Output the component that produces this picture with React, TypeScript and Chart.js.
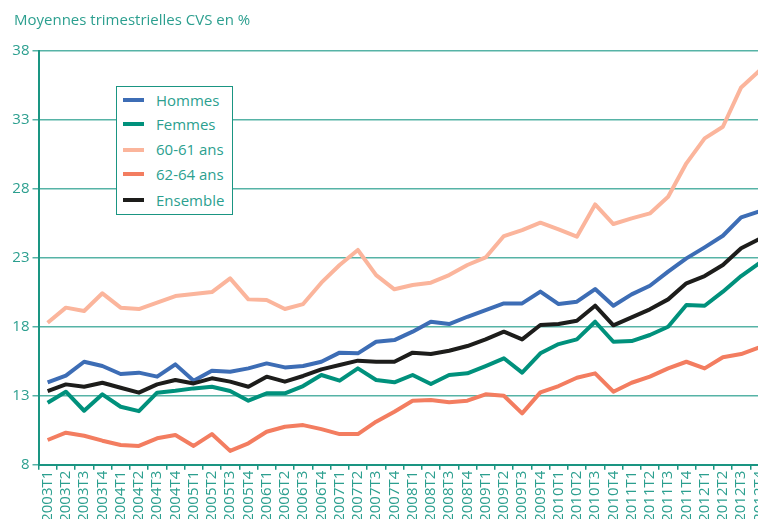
import { useEffect, useRef } from "react";
import { Chart, registerables } from "chart.js";

Chart.register(...registerables);

const categories = [
  "2003T1", "2003T2", "2003T3", "2003T4",
  "2004T1", "2004T2", "2004T3", "2004T4",
  "2005T1", "2005T2", "2005T3", "2005T4",
  "2006T1", "2006T2", "2006T3", "2006T4",
  "2007T1", "2007T2", "2007T3", "2007T4",
  "2008T1", "2008T2", "2008T3", "2008T4",
  "2009T1", "2009T2", "2009T3", "2009T4",
  "2010T1", "2010T2", "2010T3", "2010T4",
  "2011T1", "2011T2", "2011T3", "2011T4",
  "2012T1", "2012T2", "2012T3", "2012T4",
];

const hommes = [
  13.97, 14.45, 15.46, 15.15, 14.57, 14.67, 14.38, 15.27, 14.09, 14.81,
  14.74, 14.98, 15.34, 15.05, 15.15, 15.46, 16.12, 16.07, 16.91, 17.03,
  17.64, 18.36, 18.19, 18.72, 19.21, 19.69, 19.69, 20.54, 19.64, 19.81,
  20.73, 19.52, 20.34, 20.97, 21.99, 22.95, 23.75, 24.59, 25.92, 26.35,
];

const femmes = [
  12.49, 13.29, 11.91, 13.1, 12.2, 11.88, 13.22, 13.36, 13.53, 13.65,
  13.34, 12.64, 13.17, 13.17, 13.7, 14.5, 14.09, 14.98, 14.14, 13.97,
  14.5, 13.85, 14.5, 14.62, 15.15, 15.71, 14.67, 16.07, 16.74, 17.08,
  18.36, 16.91, 16.96, 17.4, 18.0, 19.57, 19.52, 20.54, 21.67, 22.6,
];

const ans6061 = [
  18.29, 19.38, 19.14, 20.42, 19.38, 19.28, 19.74, 20.22, 20.37, 20.51,
  21.5, 19.98, 19.93, 19.28, 19.64, 21.19, 22.47, 23.56, 21.74, 20.71,
  21.02, 21.19, 21.74, 22.47, 23.02, 24.57, 25.0, 25.54, 25.05, 24.52,
  26.86, 25.44, 25.85, 26.21, 27.42, 29.84, 31.65, 32.49, 35.34, 36.55,
];

const ans6264 = [
  9.79, 10.32, 10.1, 9.74, 9.43, 9.36, 9.91, 10.15, 9.36, 10.22,
  9.0, 9.55, 10.39, 10.75, 10.87, 10.58, 10.22, 10.22, 11.12, 11.84,
  12.64, 12.69, 12.52, 12.64, 13.1, 13.0, 11.72, 13.24, 13.7, 14.3,
  14.62, 13.29, 13.94, 14.38, 14.98, 15.46, 14.98, 15.78, 16.02, 16.5,
];

const ensemble = [
  13.34, 13.82, 13.65, 13.94, 13.58, 13.22, 13.82, 14.14, 13.89, 14.26,
  14.02, 13.65, 14.38, 14.02, 14.43, 14.91, 15.22, 15.54, 15.46, 15.46,
  16.12, 16.02, 16.26, 16.6, 17.08, 17.64, 17.08, 18.12, 18.19, 18.43,
  19.52, 18.1, 18.68, 19.26, 19.98, 21.14, 21.67, 22.47, 23.68, 24.35,
];

const yMin = 8;
const yMax = 38;
const yStep = 5;

const titleText = "Moyennes trimestrielles CVS en %";

const TEXT = "#2c9f8f";
const AXIS = "#1a9582";
const GRID = "#56b3a6";

const series = [
  { label: "Hommes", data: hommes, color: "#3d6db5", order: 4 },
  { label: "Femmes", data: femmes, color: "#00917c", order: 3 },
  { label: "60-61 ans", data: ans6061, color: "#fbb59c", order: 2 },
  { label: "62-64 ans", data: ans6264, color: "#f37d60", order: 1 },
  { label: "Ensemble", data: ensemble, color: "#1d1d1b", order: 0 },
];

const legendRowY = [100, 124, 149.5, 174, 200];

export default function App() {
  const ref = useRef<HTMLCanvasElement>(null);

  useEffect(() => {
    if (!ref.current) return;
    Chart.defaults.font.family = "'Open Sans', sans-serif";
    const chart = new Chart(ref.current, {
      type: "line",
      data: {
        labels: categories,
        datasets: series.map((s) => ({
          label: s.label,
          data: s.data,
          borderColor: s.color,
          backgroundColor: s.color,
          borderWidth: 4,
          pointRadius: 0,
          tension: 0,
          fill: false,
          order: s.order,
          borderJoinStyle: "round" as const,
        })),
      },
      options: {
        animation: false,
        responsive: true,
        maintainAspectRatio: false,
        layout: { padding: { top: 50.7, left: 0, right: 1.5, bottom: 0 } },
        plugins: {
          legend: { display: false },
          title: { display: false },
          tooltip: { enabled: false },
        },
        scales: {
          x: {
            type: "category",
            offset: true,
            grid: {
              display: true,
              drawOnChartArea: false,
              drawTicks: true,
              tickLength: 5,
              offset: true,
              color: AXIS,
              lineWidth: 1.5,
            },
            border: { display: true, color: AXIS, width: 2 },
            ticks: {
              color: TEXT,
              font: { size: 15 },
              minRotation: 90,
              maxRotation: 90,
              autoSkip: false,
              padding: 1,
            },
            afterFit: (s: any) => {
              s.height = 519 - 464.7;
              s.paddingLeft = 0;
              s.paddingRight = 0;
            },
          },
          y: {
            min: yMin,
            max: yMax,
            ticks: {
              stepSize: yStep,
              color: TEXT,
              font: { size: 15 },
              padding: 3,
            },
            grid: {
              color: GRID,
              lineWidth: 1.5,
              drawTicks: true,
              tickLength: 6,
            },
            border: { display: true, color: AXIS, width: 2 },
            afterFit: (s: any) => {
              s.width = 38.5;
            },
          },
        },
      },
    });
    return () => chart.destroy();
  }, []);

  return (
    <div
      style={{
        position: "absolute",
        left: 0,
        top: 0,
        width: 758,
        height: 519,
        overflow: "hidden",
        background: "#fff",
        fontFamily: "'Open Sans', sans-serif",
      }}
    >
      <div style={{ position: "absolute", left: 0, top: 0, width: 770, height: 519 }}>
        <canvas ref={ref} />
      </div>
      <div
        style={{
          position: "absolute",
          left: 14,
          top: 9,
          fontSize: 15,
          color: TEXT,
          whiteSpace: "nowrap",
        }}
      >
        {titleText}
      </div>
      <div
        style={{
          position: "absolute",
          left: 116,
          top: 86,
          width: 115,
          height: 127,
          border: `1px solid ${AXIS}`,
          background: "#fff",
        }}
      />
      {series.map((s, i) => (
        <div key={s.label}>
          <div
            style={{
              position: "absolute",
              left: 123,
              top: legendRowY[i] - 2,
              width: 21,
              height: 4,
              background: s.color,
            }}
          />
          <div
            style={{
              position: "absolute",
              left: 156,
              top: legendRowY[i] - 10.5,
              height: 20,
              lineHeight: "20px",
              fontSize: 15,
              color: TEXT,
              whiteSpace: "nowrap",
            }}
          >
            {s.label}
          </div>
        </div>
      ))}
    </div>
  );
}
